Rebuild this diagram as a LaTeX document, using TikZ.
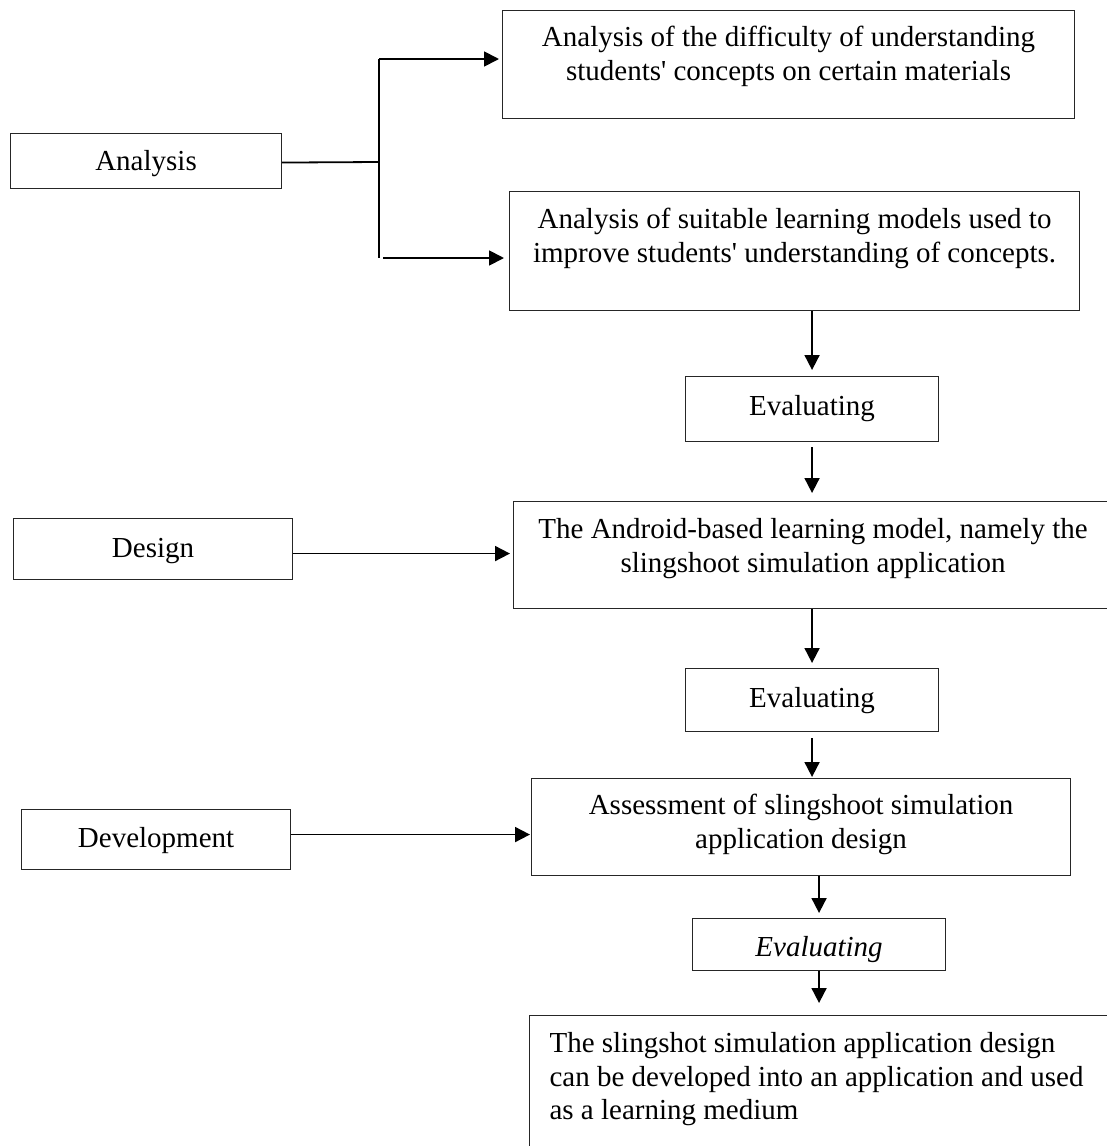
\documentclass[tikz,border=0pt]{standalone}
\usepackage{fontspec}
\setmainfont{Liberation Serif}[Ligatures=TeXOff]
\usetikzlibrary{arrows.meta}
\newcommand{\bxc}[4]{\parbox[c][#2pt][t]{#1pt}{\centering\rule{0pt}{#3pt}#4\par}}
\newcommand{\bxl}[4]{\parbox[c][#2pt][t]{#1pt}{\raggedright\leftskip=20pt\rule{0pt}{#3pt}#4\par}}
\begin{document}
\begin{tikzpicture}[x=1pt,y=-1pt,
  font=\fontsize{29}{33.5}\selectfont,
  box/.style={draw=black!85, line width=1.1pt, inner sep=0pt, anchor=north west},
  plain/.style={line width=1.8pt},
  conn/.style={line width=1.8pt, -{Triangle[length=15pt,width=15pt]}}]
\useasboundingbox (0,0) rectangle (1107,1146);
\clip (0,0) rectangle (1107,1146);
\fill[white] (0,0) rectangle (1107,1146);

% boxes
\node[box] (A)   at (10,133)  {\bxc{271}{55}{37}{Analysis}};
\node[box] (B1)  at (502,10)  {\bxc{572}{108}{36}{Analysis of the difficulty of understanding\\ students' concepts on certain materials}};
\node[box] (B2)  at (509,191) {\bxc{570}{119}{37}{Analysis of suitable learning models used to\\ improve students' understanding of concepts.}};
\node[box] (E1)  at (685,376) {\bxc{253}{65}{39}{Evaluating}};
\node[box] (D)   at (13,518)  {\bxc{279}{61}{39}{Design}};
\node[box] (B3)  at (513,501) {\bxc{599}{107}{37}{The Android-based learning model, namely the\\ slingshoot simulation application}};
\node[box] (E2)  at (685,668) {\bxc{253}{63}{39}{Evaluating}};
\node[box] (V)   at (21,809)  {\bxc{269}{60}{38}{Development}};
\node[box] (B4)  at (531,778) {\bxc{539}{97}{36}{Assessment of slingshoot simulation\\ application design}};
\node[box] (E3)  at (692,918) {\bxc{253}{52}{38}{\itshape Evaluating}};
\node[box] (B5)  at (529,1015){\bxl{590}{150}{37}{The slingshot simulation application design\\ can be developed into an application and used\\ as a learning medium}};

% analysis branch
\coordinate (j)  at (379,162);
\coordinate (vt) at (379,59);
\coordinate (vb) at (379,258);
\coordinate (sb) at (383,258);
\draw[plain] ([yshift=-1.5pt]A.east) -- (j);
\draw[plain] (vt) -- (vb);
\draw[conn, shorten >=3pt] (vt) -- (vt -| B1.west);
\draw[conn, shorten >=5pt] (sb) -- (sb -| B2.west);

% side arrows
\path ([yshift=-4.5pt]D.east) coordinate (d0);
\draw[conn, shorten >=3pt] (d0) -- (d0 -| B3.west);
\path ([yshift=5pt]V.east) coordinate (v0);
\draw[conn, shorten >=1pt] (v0) -- (v0 -| B4.west);

% vertical flow
\draw[conn, shorten >=6pt] (B2.south -| E1.north) -- (E1.north);
\draw[conn, shorten <=5pt, shorten >=8pt] (E1.south) -- (E1.south |- B3.north);
\draw[conn, shorten >=5pt] (B3.south -| E2.north) -- (E2.north);
\draw[conn, shorten <=6pt, shorten >=1pt] (E2.south) -- (E2.south |- B4.north);
\draw[conn, shorten >=5pt] (B4.south -| E3.north) -- (E3.north);
\draw[conn, shorten >=12pt] (E3.south) -- (E3.south |- B5.north);
\end{tikzpicture}
\end{document}
